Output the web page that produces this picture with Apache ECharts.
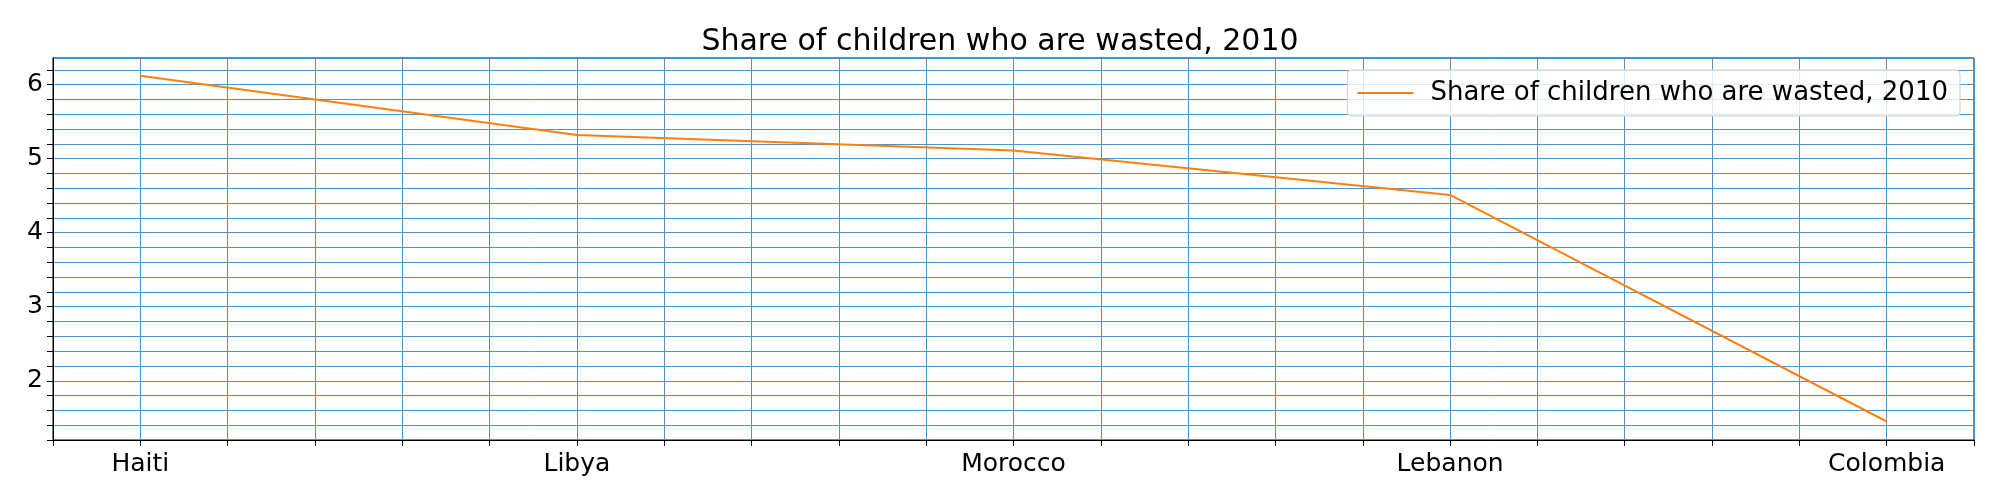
<!DOCTYPE html>
<html><head><meta charset="utf-8">
<script src="https://cdn.jsdelivr.net/npm/echarts@6/dist/echarts.min.js"></script>
<style>html,body{margin:0;padding:0;background:#fff}#c{width:2000px;height:500px}</style>
</head><body><div id="c"></div>
<script>
const categories = ["Haiti","Libya","Morocco","Lebanon","Colombia"];
const values = [6.12, 5.32, 5.11, 4.51, 1.45];
const seriesName = "Share of children who are wasted, 2010";
const titleText = "Share of children who are wasted, 2010";

const chart = echarts.init(document.getElementById('c'));
const gridColor = '#4f94c9';
const font = 'DejaVu Sans';
function isInt(v){return Math.abs(v-Math.round(v))<1e-6;}
chart.setOption({
  animation:false,
  title:{text:titleText,left:'center',top:22,textStyle:{fontFamily:font,fontSize:30,fontWeight:'normal',color:'#000'}},
  legend:{top:70,right:40,itemWidth:56,itemHeight:2,itemGap:10,padding:[10,12,10,10],
    borderColor:'#ccc',borderWidth:1,borderRadius:4,backgroundColor:'rgba(255,255,255,0.8)',
    textStyle:{fontFamily:font,fontSize:26,color:'#000',padding:[0,0,0,12]},icon:'rect',data:[seriesName]},
  grid:{left:53,right:26,top:58,bottom:60,show:true,borderColor:'#000',borderWidth:1},
  xAxis:{type:'value',min:-0.2,max:4.2,interval:0.2,
    axisLine:{show:true,onZero:false,lineStyle:{color:'#000'}},
    axisTick:{show:true,length:6,lineStyle:{color:'#000'}},
    axisLabel:{fontFamily:font,fontSize:25,color:'#000',margin:12,
      formatter:v=>isInt(v)&&v>=0&&v<categories.length?categories[Math.round(v)]:''},
    splitLine:{show:true,lineStyle:{color:gridColor,width:1}}},
  yAxis:{type:'value',min:1.2,max:6.36,interval:0.2,
    axisLine:{show:true,onZero:false,lineStyle:{color:'#000'}},
    axisTick:{show:true,length:6,lineStyle:{color:'#000'}},
    axisLabel:{fontFamily:font,fontSize:25,color:'#000',margin:10,showMaxLabel:false,
      formatter:v=>isInt(v)?String(Math.round(v)):''},
    splitLine:{show:true,lineStyle:{color:gridColor,width:1}}},
  series:[{name:seriesName,type:'line',symbol:'none',
    lineStyle:{color:'#ff7f0e',width:2},itemStyle:{color:'#ff7f0e'},
    data:values.map((v,i)=>[i,v])}]
});
</script></body></html>
